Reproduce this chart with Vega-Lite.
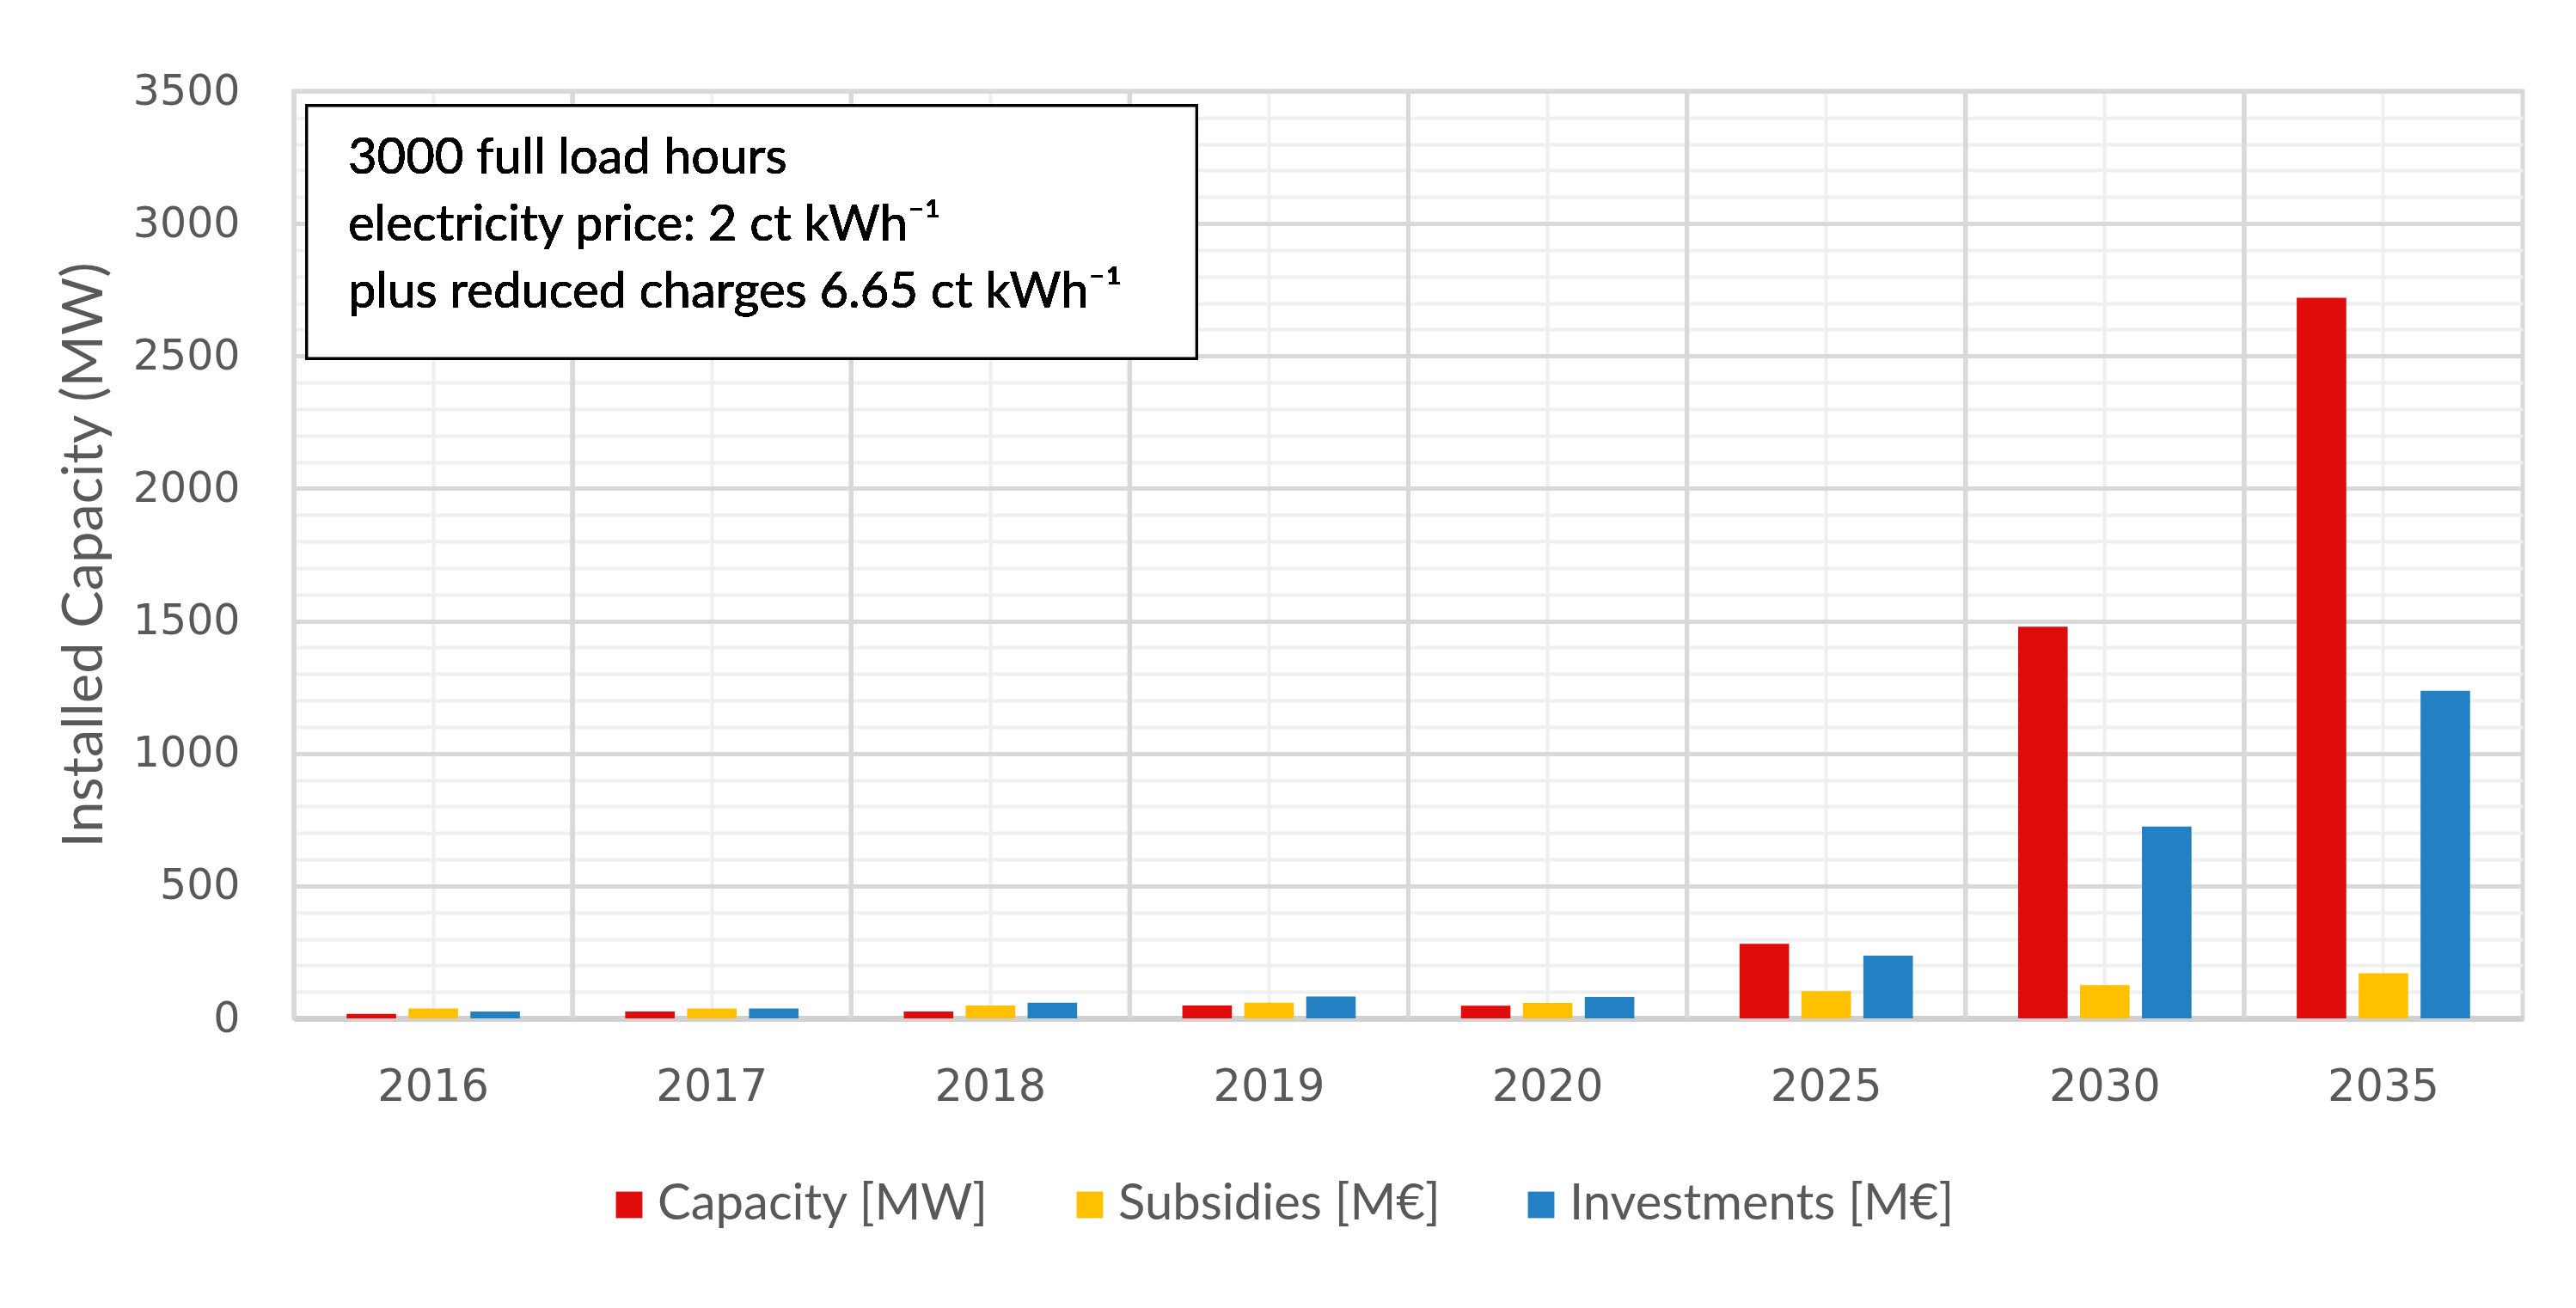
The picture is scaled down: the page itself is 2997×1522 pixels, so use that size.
{
  "$schema": "https://vega.github.io/schema/vega-lite/v6.json",
  "autosize": {"type": "none"},
  "width": 2593,
  "height": 1079,
  "padding": {"left": 342, "top": 106, "right": 62, "bottom": 337},
  "background": "white",
  "config": {
    "view": {"stroke": "#d9d9d9", "strokeWidth": 5},
    "font": "Lato"
  },
  "data": {
    "values": [
      {"year": "2016", "series": "Capacity [MW]", "value": 17},
      {"year": "2016", "series": "Subsidies [M€]", "value": 37},
      {"year": "2016", "series": "Investments [M€]", "value": 26},
      {"year": "2017", "series": "Capacity [MW]", "value": 26},
      {"year": "2017", "series": "Subsidies [M€]", "value": 37},
      {"year": "2017", "series": "Investments [M€]", "value": 37},
      {"year": "2018", "series": "Capacity [MW]", "value": 26},
      {"year": "2018", "series": "Subsidies [M€]", "value": 49},
      {"year": "2018", "series": "Investments [M€]", "value": 59},
      {"year": "2019", "series": "Capacity [MW]", "value": 49},
      {"year": "2019", "series": "Subsidies [M€]", "value": 59},
      {"year": "2019", "series": "Investments [M€]", "value": 83},
      {"year": "2020", "series": "Capacity [MW]", "value": 48},
      {"year": "2020", "series": "Subsidies [M€]", "value": 58},
      {"year": "2020", "series": "Investments [M€]", "value": 81},
      {"year": "2025", "series": "Capacity [MW]", "value": 281},
      {"year": "2025", "series": "Subsidies [M€]", "value": 103},
      {"year": "2025", "series": "Investments [M€]", "value": 237},
      {"year": "2030", "series": "Capacity [MW]", "value": 1478},
      {"year": "2030", "series": "Subsidies [M€]", "value": 126},
      {"year": "2030", "series": "Investments [M€]", "value": 724},
      {"year": "2035", "series": "Capacity [MW]", "value": 2720},
      {"year": "2035", "series": "Subsidies [M€]", "value": 170},
      {"year": "2035", "series": "Investments [M€]", "value": 1237}
    ]
  },
  "resolve": {"scale": {"x": "independent"}, "axis": {"x": "independent", "y": "independent"}},
  "layer": [
    {
      "mark": {"type": "rule", "color": "#d9d9d9", "strokeWidth": 5},
      "encoding": {
        "x": {"field": "year", "type": "nominal", "bandPosition": 0,
              "scale": {"type": "band", "paddingInner": 0, "paddingOuter": 0}, "axis": null}
      }
    },
    {
      "mark": {"type": "bar"},
      "encoding": {
        "x": {"field": "year", "type": "nominal",
              "scale": {"type": "band", "paddingInner": 0, "paddingOuter": 0},
              "axis": {"title": null, "labelAngle": 0, "labelFont": "DejaVu Sans", "labelFontSize": 51,
                       "labelColor": "#595959", "labelPadding": 55, "ticks": false, "tickSize": 0,
                       "domainColor": "#d0d0d0", "domainWidth": 7,
                       "grid": true, "gridColor": "#efefef", "gridWidth": 4}},
        "xOffset": {"field": "series", "type": "nominal",
                    "sort": ["Capacity [MW]", "Subsidies [M€]", "Investments [M€]"],
                    "scale": {"paddingInner": 0.2, "paddingOuter": 0.85}},
        "y": {"field": "value", "type": "quantitative",
              "scale": {"domain": [0, 3500], "nice": false},
              "axis": {"title": "Installed Capacity (MW)", "titleFont": "Lato", "titleFontSize": 65,
                       "titleFontWeight": "normal", "titleColor": "#595959", "titlePadding": 22,
                       "orient": "left",
                       "values": [0, 500, 1000, 1500, 2000, 2500, 3000, 3500],
                       "format": "d",
                       "labelFont": "DejaVu Sans", "labelFontSize": 49, "labelColor": "#595959",
                       "labelPadding": 63, "ticks": false, "tickSize": 0,
                       "domain": false,
                       "grid": true, "gridColor": "#d9d9d9", "gridWidth": 5}},
        "color": {"field": "series", "type": "nominal",
                  "scale": {"domain": ["Capacity [MW]", "Subsidies [M€]", "Investments [M€]"],
                            "range": ["#E00C0C", "#FFC000", "#2380C3"]},
                  "legend": {"title": null, "orient": "none", "direction": "horizontal",
                             "legendX": 361, "legendY": 1267,
                             "symbolType": "square", "symbolSize": 950, "symbolStrokeWidth": 0,
                             "labelFont": "Lato", "labelFontSize": 58, "labelColor": "#595959",
                             "labelOffset": 4, "columnPadding": 88, "labelLimit": 0}}
      }
    },
    {
      "mark": {"type": "rect", "fill": "white", "stroke": "black", "strokeWidth": 3},
      "encoding": {
        "x": {"datum": 0.046, "type": "quantitative", "scale": {"domain": [0, 8], "nice": false, "zero": false}, "axis": null},
        "x2": {"datum": 3.24},
        "y": {"datum": 3445, "type": "quantitative",
              "axis": {"orient": "right", "title": null, "labels": false, "ticks": false, "domain": false,
                       "values": [100,200,300,400,600,700,800,900,1100,1200,1300,1400,1600,1700,1800,1900,2100,2200,2300,2400,2600,2700,2800,2900,3100,3200,3300,3400],
                       "grid": true, "gridColor": "#efefef", "gridWidth": 4}},
        "y2": {"datum": 2491}
      }
    },
    {
      "mark": {"type": "text", "align": "left", "baseline": "middle", "font": "Lato", "fontSize": 58,
               "color": "black", "lineHeight": 78},
      "encoding": {
        "x": {"datum": 0.194, "type": "quantitative", "scale": {"domain": [0, 8], "nice": false, "zero": false}, "axis": null},
        "y": {"datum": 3244, "type": "quantitative", "axis": null},
        "text": {"value": ["3000 full load hours", "electricity price: 2 ct kWh⁻¹", "plus reduced charges 6.65 ct kWh⁻¹"]}
      }
    }
  ]
}
